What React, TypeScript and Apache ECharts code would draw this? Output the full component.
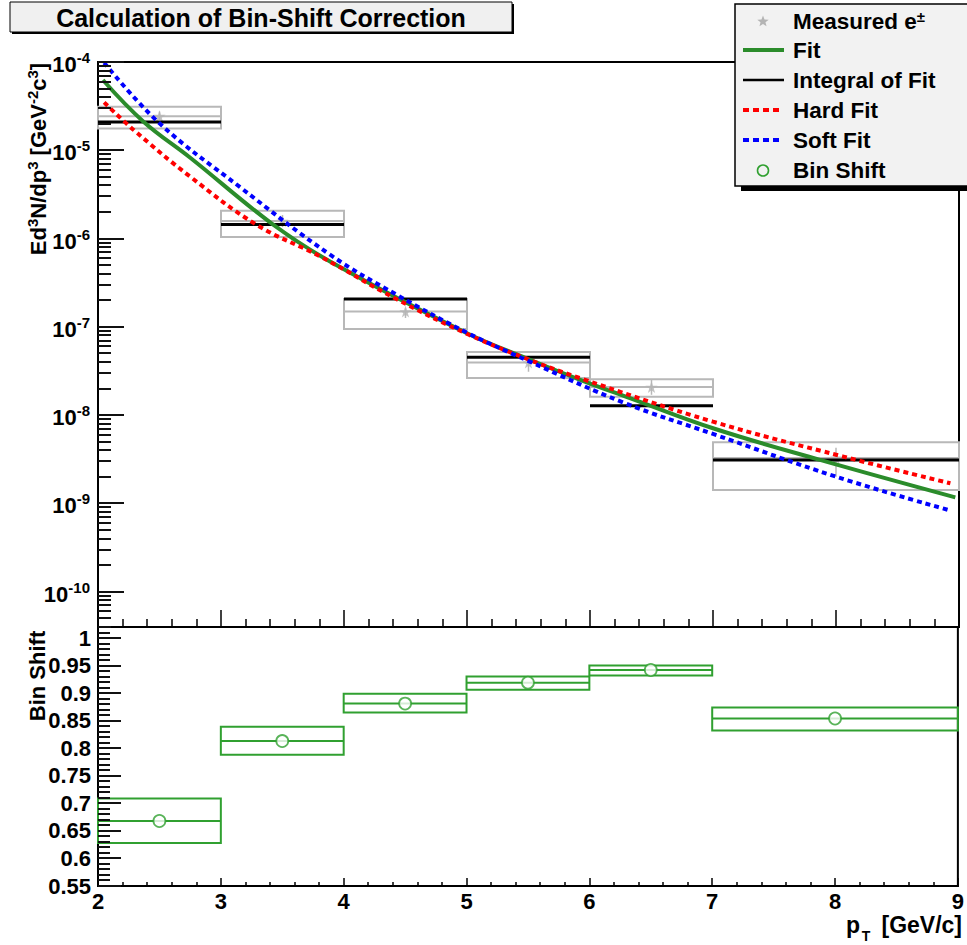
import React, { useEffect, useRef } from 'react';
import * as echarts from 'echarts';

// ---------- data ----------
const binLow = [2, 3, 4, 5, 6, 7];
const binHigh = [3, 4, 5, 6, 7, 9];
const binCenter = [2.5, 3.5, 4.5, 5.5, 6.5, 8];

const measured = [2.43e-5, 1.58e-6, 1.49e-7, 3.94e-8, 2.08e-8, 3.27e-9];
const statHigh = [2.75e-5, 1.85e-6, 1.62e-7, 4.6e-8, 2.5e-8, 4.28e-9];
const statLow = [2.2e-5, 1.35e-6, 1.26e-7, 3.1e-8, 1.7e-8, 2.0e-9];
const sysHigh = [3.12e-5, 2.07e-6, 2.07e-7, 5.2e-8, 2.55e-8, 4.93e-9];
const sysLow = [1.77e-5, 1.04e-6, 9.46e-8, 2.64e-8, 1.61e-8, 1.42e-9];
const integralOfFit = [2.09e-5, 1.44e-6, 2.07e-7, 4.53e-8, 1.28e-8, 3.11e-9];

const fitX = [2.04, 2.37, 2.75, 3.41, 3.89, 5.0, 5.45, 5.92, 6.33, 7.0, 7.87, 8.97];
const fitY = [6.25e-5, 2.11e-5, 8.24e-6, 1.49e-6, 5.47e-7, 8.45e-8, 4.6e-8, 2.51e-8, 1.55e-8, 7.1e-9, 3.11e-9, 1.17e-9];

const hardX = [2.05, 2.29, 2.75, 3.29, 3.81, 4.43, 5.02, 5.51, 5.92, 7.0, 8.06, 8.93];
const hardY = [3.49e-5, 1.7e-5, 5.02e-6, 1.43e-6, 6.24e-7, 2.05e-7, 8.09e-8, 4.22e-8, 2.62e-8, 8.43e-9, 3.39e-9, 1.69e-9];

const softX = [2.05, 2.5, 3.15, 3.89, 4.43, 5.0, 5.51, 6.27, 7.0, 8.0, 8.93];
const softY = [9.82e-5, 2.02e-5, 3.87e-6, 6.52e-7, 2.3e-7, 8.59e-8, 4.04e-8, 1.39e-8, 6.12e-9, 2.01e-9, 8.3e-10];

const binShift = [0.668, 0.813, 0.881, 0.919, 0.942, 0.854];
const binShiftHigh = [0.709, 0.839, 0.899, 0.93, 0.95, 0.874];
const binShiftLow = [0.628, 0.788, 0.865, 0.906, 0.932, 0.832];

const topExponents = [-10, -9, -8, -7, -6, -5, -4];
const bottomTicks = [0.55, 0.6, 0.65, 0.7, 0.75, 0.8, 0.85, 0.9, 0.95, 1];
const xTicks = [2, 3, 4, 5, 6, 7, 8, 9];

// ---------- layout ----------
const FONT = '"Liberation Sans", Arial, Helvetica, sans-serif';
const GREEN = '#2b8c2b';
const GREEN2 = '#30a030';
const GRAY = '#b8b8b8';
const X_MIN = 2;
const X_MAX = 9;
const TOP_MIN = -10.4;
const TOP_MAX = -4;
const BOT_MIN = 0.55;
const BOT_MAX = 1.02;
const GRID_LEFT = 98;
const GRID_WIDTH = 861;
const TOP1 = 62;
const H1 = 565;
const TOP2 = 627;
const H2 = 259;

const L = (v: number) => Math.log10(v);

const topMinor: number[] = [];
for (let e = -11; e < -4; e++) {
  for (let k = 2; k <= 9; k++) {
    const v = Math.log10(k) + e;
    if (v > TOP_MIN && v < TOP_MAX) topMinor.push(v);
  }
}
const bottomMinor: number[] = [];
for (let i = 56; i <= 101; i++) {
  if (i % 5 !== 0) bottomMinor.push(i / 100);
}

const starPath =
  'path://M50,0 L61,35 L98,35 L68,57 L79,91 L50,70 L21,91 L32,57 L2,35 L39,35 Z';

function starPoints(cx: number, cy: number, R: number, r: number) {
  const pts: number[][] = [];
  for (let i = 0; i < 10; i++) {
    const a = -Math.PI / 2 + (i * Math.PI) / 5;
    const rad = i % 2 === 0 ? R : r;
    pts.push([cx + rad * Math.cos(a), cy + rad * Math.sin(a)]);
  }
  return pts;
}

export default function App() {
  const ref = useRef<HTMLDivElement>(null);

  useEffect(() => {
    document.body.style.margin = '0';
    if (!ref.current) return;
    const chart = echarts.init(ref.current, undefined, { renderer: 'svg' });

    const axisLineStyle = { color: '#000', width: 2 };
    const tickLine = { color: '#000', width: 1.5 };

    const sysData = binLow.map((lo, i) => [lo, binHigh[i], L(sysLow[i]), L(sysHigh[i]), L(measured[i])]);
    const statData = binCenter.map((c, i) => [c, L(statLow[i]), L(statHigh[i])]);
    const integralData = binLow.map((lo, i) => [lo, binHigh[i], L(integralOfFit[i])]);
    const bsBoxData = binLow.map((lo, i) => [lo, binHigh[i], binShiftLow[i], binShiftHigh[i], binShift[i]]);

    const boxRender = (stroke: string, lw: number) => (params: any, api: any) => {
      const p1 = api.coord([api.value(0), api.value(3)]);
      const p2 = api.coord([api.value(1), api.value(2)]);
      const m1 = api.coord([api.value(0), api.value(4)]);
      const m2 = api.coord([api.value(1), api.value(4)]);
      return {
        type: 'group',
        children: [
          {
            type: 'rect',
            shape: { x: p1[0], y: p1[1], width: p2[0] - p1[0], height: p2[1] - p1[1] },
            style: { fill: 'none', stroke, lineWidth: lw },
          },
          {
            type: 'line',
            shape: { x1: m1[0], y1: m1[1], x2: m2[0], y2: m2[1] },
            style: { stroke, lineWidth: lw },
          },
        ],
      };
    };

    // ROOT-style inward y ticks (log minor ticks on the top panel), as pixel-snapped bars
    const yTickBars = (values: number[], min: number, max: number, top: number, height: number, len: number) =>
      values.map((v) => {
        const y = Math.round(top + ((max - v) / (max - min)) * height);
        return {
          type: 'rect',
          z: 90,
          shape: { x: GRID_LEFT, y: y - 1, width: len, height: 2 },
          style: { fill: '#111' },
        };
      });

    const legendRows = [21.5, 50, 80, 110, 140, 170.5];
    const legendText = (y: number, rich: string) => ({
      type: 'text',
      z: 101,
      style: {
        text: rich,
        x: 793,
        y,
        align: 'left',
        verticalAlign: 'middle',
        textAlign: 'left',
        textVerticalAlign: 'middle',
        fill: '#000',
        fontSize: 22,
        fontWeight: 'bold',
        fontFamily: FONT,
        rich: {
          b: { fontSize: 22.5, fontWeight: 'bold', fontFamily: FONT, fill: '#000', color: '#000', lineHeight: 26 },
          s: { fontSize: 15, fontWeight: 'bold', fontFamily: FONT, fill: '#000', color: '#000', lineHeight: 15, verticalAlign: 'top' },
        },
      },
    });

    const boldText = (text: string, x: number, y: number, size: number, align: string, extra: any = {}) => ({
      type: 'text',
      z: 101,
      ...extra,
      style: {
        text,
        x,
        y,
        align,
        verticalAlign: 'middle',
        textAlign: align,
        textVerticalAlign: 'middle',
        fill: '#000',
        fontSize: size,
        fontWeight: 'bold',
        fontFamily: FONT,
      },
    });

    const graphic: any[] = [
      // title box
      { type: 'rect', z: 100, shape: { x: 12, y: 4, width: 502, height: 30 }, style: { fill: '#000' } },
      { type: 'rect', z: 100, shape: { x: 10, y: 2, width: 502, height: 30 }, style: { fill: '#f0f0f0', stroke: '#000', lineWidth: 1 } },
      boldText('Calculation of Bin-Shift Correction', 261, 18, 25, 'center'),
      // legend box
      { type: 'rect', z: 100, shape: { x: 741, y: 10, width: 240, height: 181 }, style: { fill: '#000' } },
      { type: 'rect', z: 100, shape: { x: 735, y: 4, width: 240, height: 182 }, style: { fill: '#f2f2f2', stroke: '#000', lineWidth: 1.5 } },
      { type: 'polygon', z: 101, shape: { points: starPoints(763, legendRows[0], 6, 2.6) }, style: { fill: '#b4b4b4' } },
      legendText(legendRows[0], '{b|Measured e}{s|±}'),
      { type: 'line', z: 101, shape: { x1: 743, y1: legendRows[1], x2: 784, y2: legendRows[1] }, style: { stroke: GREEN, lineWidth: 4 } },
      legendText(legendRows[1], '{b|Fit}'),
      { type: 'line', z: 101, shape: { x1: 743, y1: legendRows[2], x2: 784, y2: legendRows[2] }, style: { stroke: '#000', lineWidth: 2.5 } },
      legendText(legendRows[2], '{b|Integral of Fit}'),
      { type: 'line', z: 101, shape: { x1: 743, y1: legendRows[3], x2: 782, y2: legendRows[3] }, style: { stroke: '#ff0000', lineWidth: 4, lineDash: [6, 4] } },
      legendText(legendRows[3], '{b|Hard Fit}'),
      { type: 'line', z: 101, shape: { x1: 743, y1: legendRows[4], x2: 782, y2: legendRows[4] }, style: { stroke: '#0000ff', lineWidth: 4, lineDash: [6, 4] } },
      legendText(legendRows[4], '{b|Soft Fit}'),
      { type: 'circle', z: 101, shape: { cx: 763, cy: legendRows[5], r: 5.5 }, style: { fill: 'none', stroke: GREEN2, lineWidth: 1.6 } },
      legendText(legendRows[5], '{b|Bin Shift}'),
      // y-axis title top
      {
        type: 'text',
        z: 101,
        x: 38,
        y: 159,
        rotation: Math.PI / 2,
        style: {
          text: '{b|Ed}{s|3}{b|N/dp}{s|3}{b| [GeV}{s|-2}{b|c}{s|3}{b|]}',
          x: 0,
          y: 0,
          align: 'center',
          verticalAlign: 'middle',
          textAlign: 'center',
          textVerticalAlign: 'middle',
          fill: '#000',
          fontSize: 22,
          fontWeight: 'bold',
          fontFamily: FONT,
          rich: {
            b: { fontSize: 22, fontWeight: 'bold', fontFamily: FONT, fill: '#000', color: '#000', lineHeight: 26 },
            s: { fontSize: 15, fontWeight: 'bold', fontFamily: FONT, fill: '#000', color: '#000', lineHeight: 15, verticalAlign: 'top' },
          },
        },
      },
      // y-axis title bottom
      boldText('Bin Shift', 0, 0, 22, 'center', { x: 37, y: 676, rotation: Math.PI / 2 }),
      // x-axis title
      boldText('[GeV/c]', 962, 925, 23, 'right'),
      boldText('p', 846, 925, 23, 'left'),
      boldText('T', 866, 936, 14, 'center'),
      // y ticks
      ...yTickBars(topExponents, TOP_MIN, TOP_MAX, TOP1, H1, 26),
      ...yTickBars(topMinor, TOP_MIN, TOP_MAX, TOP1, H1, 13),
      ...yTickBars(bottomTicks, BOT_MIN, BOT_MAX, TOP2, H2, 23),
      ...yTickBars(bottomMinor, BOT_MIN, BOT_MAX, TOP2, H2, 12),
    ];

    const option: any = {
      animation: false,
      backgroundColor: '#fff',
      grid: [
        { left: GRID_LEFT, top: TOP1, width: GRID_WIDTH, height: H1, show: true, borderColor: '#000', borderWidth: 2, backgroundColor: 'transparent' },
        { left: GRID_LEFT, top: TOP2, width: GRID_WIDTH, height: H2, show: true, borderColor: '#000', borderWidth: 2, backgroundColor: 'transparent' },
      ],
      xAxis: [
        {
          gridIndex: 0,
          type: 'value',
          min: X_MIN,
          max: X_MAX,
          interval: 1,
          axisLine: { show: true, onZero: false, lineStyle: axisLineStyle },
          axisTick: { show: true, inside: true, length: 17, lineStyle: tickLine },
          minorTick: { show: true, splitNumber: 5, length: 8, lineStyle: tickLine },
          axisLabel: { show: false },
          splitLine: { show: false },
        },
        {
          gridIndex: 1,
          type: 'value',
          min: X_MIN,
          max: X_MAX,
          interval: 1,
          axisLine: { show: true, onZero: false, lineStyle: axisLineStyle },
          axisTick: { show: true, inside: true, length: 8, lineStyle: tickLine },
          minorTick: { show: true, splitNumber: 5, length: 4, lineStyle: tickLine },
          axisLabel: {
            show: true,
            margin: 4,
            color: '#000',
            fontSize: 22,
            fontWeight: 'bold',
            fontFamily: FONT,
            customValues: xTicks,
            formatter: (v: number) => String(v),
          },
          splitLine: { show: false },
        },
      ],
      yAxis: [
        {
          gridIndex: 0,
          type: 'value',
          min: TOP_MIN,
          max: TOP_MAX,
          position: 'left',
          axisLine: { show: true, onZero: false, lineStyle: axisLineStyle },
          axisTick: { show: false },
          axisLabel: {
            show: true,
            margin: 8,
            customValues: topExponents,
            formatter: (v: number) => `{b|10}{s|${Math.round(v)}}`,
            rich: {
              b: { fontSize: 22, fontWeight: 'bold', fontFamily: FONT, color: '#000', lineHeight: 24, padding: [5, 0, 0, 0] },
              s: { fontSize: 15, fontWeight: 'bold', fontFamily: FONT, color: '#000', lineHeight: 15, verticalAlign: 'top' },
            },
          },
          splitLine: { show: false },
        },
        {
          gridIndex: 1,
          type: 'value',
          min: BOT_MIN,
          max: BOT_MAX,
          position: 'left',
          axisLine: { show: true, onZero: false, lineStyle: axisLineStyle },
          axisTick: { show: false },
          axisLabel: {
            show: true,
            margin: 7,
            color: '#000',
            fontSize: 22,
            fontWeight: 'bold',
            fontFamily: FONT,
            customValues: bottomTicks,
            formatter: (v: number) => String(Math.round(v * 100) / 100),
          },
          splitLine: { show: false },
        },
      ],
      series: [
        {
          name: 'Measured systematic',
          type: 'custom',
          xAxisIndex: 0,
          yAxisIndex: 0,
          encode: { x: [0, 1], y: [2, 3, 4] },
          renderItem: boxRender(GRAY, 2),
          data: sysData,
          z: 2,
        },
        {
          name: 'Measured stat',
          type: 'custom',
          xAxisIndex: 0,
          yAxisIndex: 0,
          encode: { x: 0, y: [1, 2] },
          renderItem: (params: any, api: any) => {
            const a = api.coord([api.value(0), api.value(1)]);
            const b = api.coord([api.value(0), api.value(2)]);
            return { type: 'line', shape: { x1: a[0], y1: a[1], x2: b[0], y2: b[1] }, style: { stroke: GRAY, lineWidth: 1.5 } };
          },
          data: statData,
          z: 2,
        },
        {
          name: 'Measured e±',
          type: 'scatter',
          xAxisIndex: 0,
          yAxisIndex: 0,
          symbol: starPath,
          symbolSize: 12,
          itemStyle: { color: '#b4b4b4' },
          data: binCenter.map((c, i) => [c, L(measured[i])]),
          z: 3,
        },
        {
          name: 'Integral of Fit',
          type: 'custom',
          xAxisIndex: 0,
          yAxisIndex: 0,
          encode: { x: [0, 1], y: 2 },
          renderItem: (params: any, api: any) => {
            const a = api.coord([api.value(0), api.value(2)]);
            const b = api.coord([api.value(1), api.value(2)]);
            return { type: 'line', shape: { x1: a[0], y1: a[1], x2: b[0], y2: b[1] }, style: { stroke: '#000', lineWidth: 3 } };
          },
          data: integralData,
          z: 4,
        },
        {
          name: 'Fit',
          type: 'line',
          xAxisIndex: 0,
          yAxisIndex: 0,
          smooth: 0.4,
          showSymbol: false,
          lineStyle: { color: GREEN, width: 4 },
          data: fitX.map((x, i) => [x, L(fitY[i])]),
          z: 5,
        },
        {
          name: 'Hard Fit',
          type: 'line',
          xAxisIndex: 0,
          yAxisIndex: 0,
          smooth: 0.4,
          showSymbol: false,
          lineStyle: { color: '#ff0000', width: 4, type: [5, 4] },
          data: hardX.map((x, i) => [x, L(hardY[i])]),
          z: 6,
        },
        {
          name: 'Soft Fit',
          type: 'line',
          xAxisIndex: 0,
          yAxisIndex: 0,
          smooth: 0.4,
          showSymbol: false,
          lineStyle: { color: '#0000ff', width: 4, type: [5, 4] },
          data: softX.map((x, i) => [x, L(softY[i])]),
          z: 7,
        },
        {
          name: 'Bin Shift boxes',
          type: 'custom',
          xAxisIndex: 1,
          yAxisIndex: 1,
          encode: { x: [0, 1], y: [2, 3, 4] },
          renderItem: boxRender(GREEN2, 2),
          data: bsBoxData,
          z: 2,
        },
        {
          name: 'Bin Shift',
          type: 'scatter',
          xAxisIndex: 1,
          yAxisIndex: 1,
          symbol: 'circle',
          symbolSize: 12,
          itemStyle: { color: '#fff', borderColor: GREEN2, borderWidth: 1.8 },
          data: binCenter.map((c, i) => [c, binShift[i]]),
          z: 3,
        },
      ],
      graphic,
    };

    chart.setOption(option);

    return () => chart.dispose();
  }, []);

  return <div ref={ref} style={{ width: 967, height: 945 }} />;
}
